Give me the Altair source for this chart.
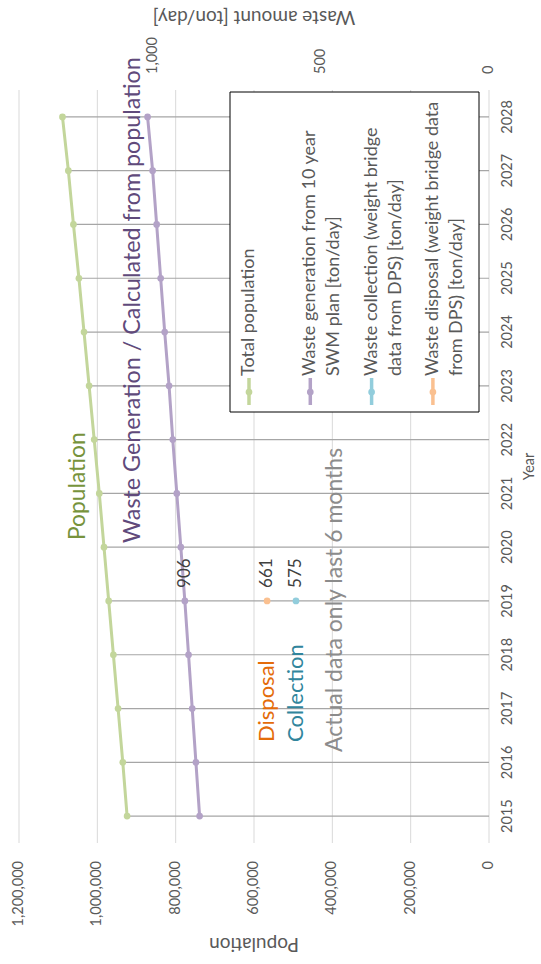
import altair as alt
import pandas as pd

# ---- data -------------------------------------------------------------
years = list(range(2015, 2029))
population = [924000, 935000, 947000, 959000, 971000, 983000, 995000,
              1008000, 1021000, 1034000, 1047000, 1061000, 1074000, 1089000]
waste_generation = [862, 873, 884, 895, 906, 918, 930,
                    942, 953, 966, 978, 990, 1002, 1017]
actual_years = [2019]
waste_collection = [575]
waste_disposal = [661]

pop_ticks = [0, 200000, 400000, 600000, 800000, 1000000, 1200000]
waste_ticks = [0, 500, 1000]

legend_labels = [
    ["Total population"],
    ["Waste generation from 10 year", "SWM plan [ton/day]"],
    ["Waste collection (weight bridge", "data from DPS) [ton/day]"],
    ["Waste disposal (weight bridge data", "from DPS) [ton/day]"],
]

# ---- styling ------------------------------------------------------------
FONT = "Lato"
W, H = 470, 753
GREEN, PURPLE, BLUE, ORANGE = "#c3d69b", "#b3a2c7", "#92cddc", "#fac090"
legend_colors = [GREEN, PURPLE, BLUE, ORANGE]
TXT = "#595959"
TICK_SIZE = 14.5
TITLE_SIZE = 19

df = pd.DataFrame({"year": years, "population": population,
                   "waste": waste_generation})
df["zero"] = 0
actual = pd.DataFrame({"year": actual_years, "collection": waste_collection,
                       "disposal": waste_disposal})

year_scale = alt.Scale(domain=[2014.5, 2028.5], nice=False, zero=False)
pop_scale = alt.Scale(domain=[0, 1200000], reverse=True, nice=False, zero=False)
waste_scale = alt.Scale(domain=[0, 1400], reverse=True, nice=False, zero=False)

Y = alt.Y("year:Q", scale=year_scale, axis=None)


def px(field):
    return alt.X(field, scale=pop_scale, axis=None)


def wx(field):
    return alt.X(field, scale=waste_scale, axis=None)


def rotated_text(**kw):
    opts = dict(angle=270, baseline="middle", font=FONT)
    opts.update(kw)
    return opts


def label_frame(text):
    return pd.DataFrame({"t": [text]})


# ---- population: gridlines, bottom tick labels, drop lines, line ----------
pop_tick_df = pd.DataFrame({"v": pop_ticks})
pop_grid = alt.Chart(pop_tick_df).mark_rule(color="#d9d9d9", strokeWidth=1).encode(
    x=px("v:Q"), y=alt.value(0), y2=alt.value(H))
pop_tick_labels = alt.Chart(pop_tick_df).mark_text(
    **rotated_text(align="right", fontSize=TICK_SIZE, color=TXT)
).encode(x=px("v:Q"), y=alt.value(H + 18), text=alt.Text("v:Q", format=",d"))
pop_title = alt.Chart(label_frame("Population")).mark_text(
    angle=180, align="center", baseline="middle", font=FONT,
    fontSize=TITLE_SIZE, color=TXT,
).encode(x=alt.value(W / 2), y=alt.value(H + 101), text="t:N")

base = alt.Chart(df)
drop_lines = base.mark_rule(color="#a6a6a6", strokeWidth=1.2).encode(
    x=px("population:Q"), x2="zero:Q", y=Y)
pop_line = base.mark_line(color=GREEN, strokeWidth=3).encode(
    x=px("population:Q"), y=Y, order="year:Q")
pop_points = base.mark_circle(color=GREEN, size=45, opacity=1).encode(
    x=px("population:Q"), y=Y)

# year labels along the right edge
year_labels = alt.Chart(pd.DataFrame({"year": years})).mark_text(
    **rotated_text(align="center", baseline="top", fontSize=TICK_SIZE, color=TXT)
).encode(x=alt.value(W + 12), y=Y, text=alt.Text("year:Q", format="d"))
year_title = alt.Chart(label_frame("Year")).mark_text(
    **rotated_text(align="center", fontSize=TICK_SIZE, color=TXT)
).encode(x=alt.value(W + 41), y=alt.value(H / 2), text="t:N")

pop_layer = alt.layer(pop_grid, drop_lines, pop_line, pop_points,
                      pop_tick_labels, pop_title, year_labels, year_title)

# ---- waste: top tick labels, plan line, measured points -------------------
waste_tick_labels = alt.Chart(pd.DataFrame({"v": waste_ticks})).mark_text(
    **rotated_text(align="left", fontSize=TICK_SIZE, color=TXT)
).encode(x=wx("v:Q"), y=alt.value(-16), text=alt.Text("v:Q", format=",d"))
waste_title = alt.Chart(label_frame("Waste amount [ton/day]")).mark_text(
    angle=180, align="center", baseline="middle", font=FONT,
    fontSize=TITLE_SIZE, color=TXT,
).encode(x=alt.value(W / 2), y=alt.value(-73), text="t:N")

waste_line = base.mark_line(color=PURPLE, strokeWidth=3).encode(
    x=wx("waste:Q"), y=Y, order="year:Q")
waste_points = base.mark_circle(color=PURPLE, size=45, opacity=1).encode(
    x=wx("waste:Q"), y=Y)
waste_label = base.transform_filter(alt.datum.year == 2019).mark_text(
    **rotated_text(align="left", dx=13, fontSize=17, color="#404040")
).encode(x=wx("waste:Q"), y=Y, text=alt.Text("waste:Q", format="d"))

act = alt.Chart(actual)
act_layers = []
for field, color in (("collection", BLUE), ("disposal", ORANGE)):
    act_layers.append(act.mark_circle(color=color, size=45, opacity=1).encode(
        x=wx(f"{field}:Q"), y=Y))
    act_layers.append(act.mark_text(
        **rotated_text(align="left", dx=13, fontSize=17, color="#404040")
    ).encode(x=wx(f"{field}:Q"), y=Y, text=alt.Text(f"{field}:Q", format="d")))


# ---- free text annotations ---------------------------------------------
def note(text, x, y, color, size):
    return alt.Chart(label_frame(text)).mark_text(
        **rotated_text(align="left", fontSize=size, color=color)
    ).encode(x=alt.value(x), y=alt.value(y), text="t:N")


notes = [
    note("Population", 59, 450, "#77933c", 22.8),
    note("Waste Generation / Calculated from population", 114, 453, "#604a7b", 23.3),
    note("Disposal", 248, 652, "#e46c0a", 22),
    note("Collection", 277, 652, "#31859c", 22),
    note("Actual data only last 6 months", 316, 662, "#8c8c8c", 23),
]

# ---- legend box ------------------------------------------------------------
legend_parts = [
    alt.Chart(label_frame("box")).mark_rect(
        fill="white", stroke="#000000", strokeWidth=1,
    ).encode(x=alt.value(211), x2=alt.value(460), y=alt.value(2), y2=alt.value(322))
]
for i, (lines, color) in enumerate(zip(legend_labels, legend_colors)):
    sx = 230 + i * 61.3
    one = label_frame("key")
    legend_parts.append(alt.Chart(one).mark_rule(color=color, strokeWidth=3.5).encode(
        x=alt.value(sx), y=alt.value(288), y2=alt.value(315)))
    legend_parts.append(alt.Chart(one).mark_circle(color=color, size=45, opacity=1).encode(
        x=alt.value(sx), y=alt.value(302)))
    for j, line in enumerate(lines):
        legend_parts.append(alt.Chart(label_frame(line)).mark_text(
            **rotated_text(align="left", fontSize=18, color=TXT)
        ).encode(x=alt.value(sx + 24 * j), y=alt.value(286), text="t:N"))

waste_layer = alt.layer(waste_tick_labels, waste_title, waste_line, waste_points,
                        waste_label, *act_layers, *legend_parts, *notes)

chart = alt.layer(pop_layer, waste_layer).resolve_scale(
    x="independent"
).properties(
    width=W, height=H,
    padding={"left": 19, "top": 90, "right": 52, "bottom": 121},
    autosize=alt.AutoSizeParams(type="none"),
    background="white",
).configure(font=FONT).configure_view(stroke=None)

chart.save("out.html", embed_options={"renderer": "svg", "actions": False})
